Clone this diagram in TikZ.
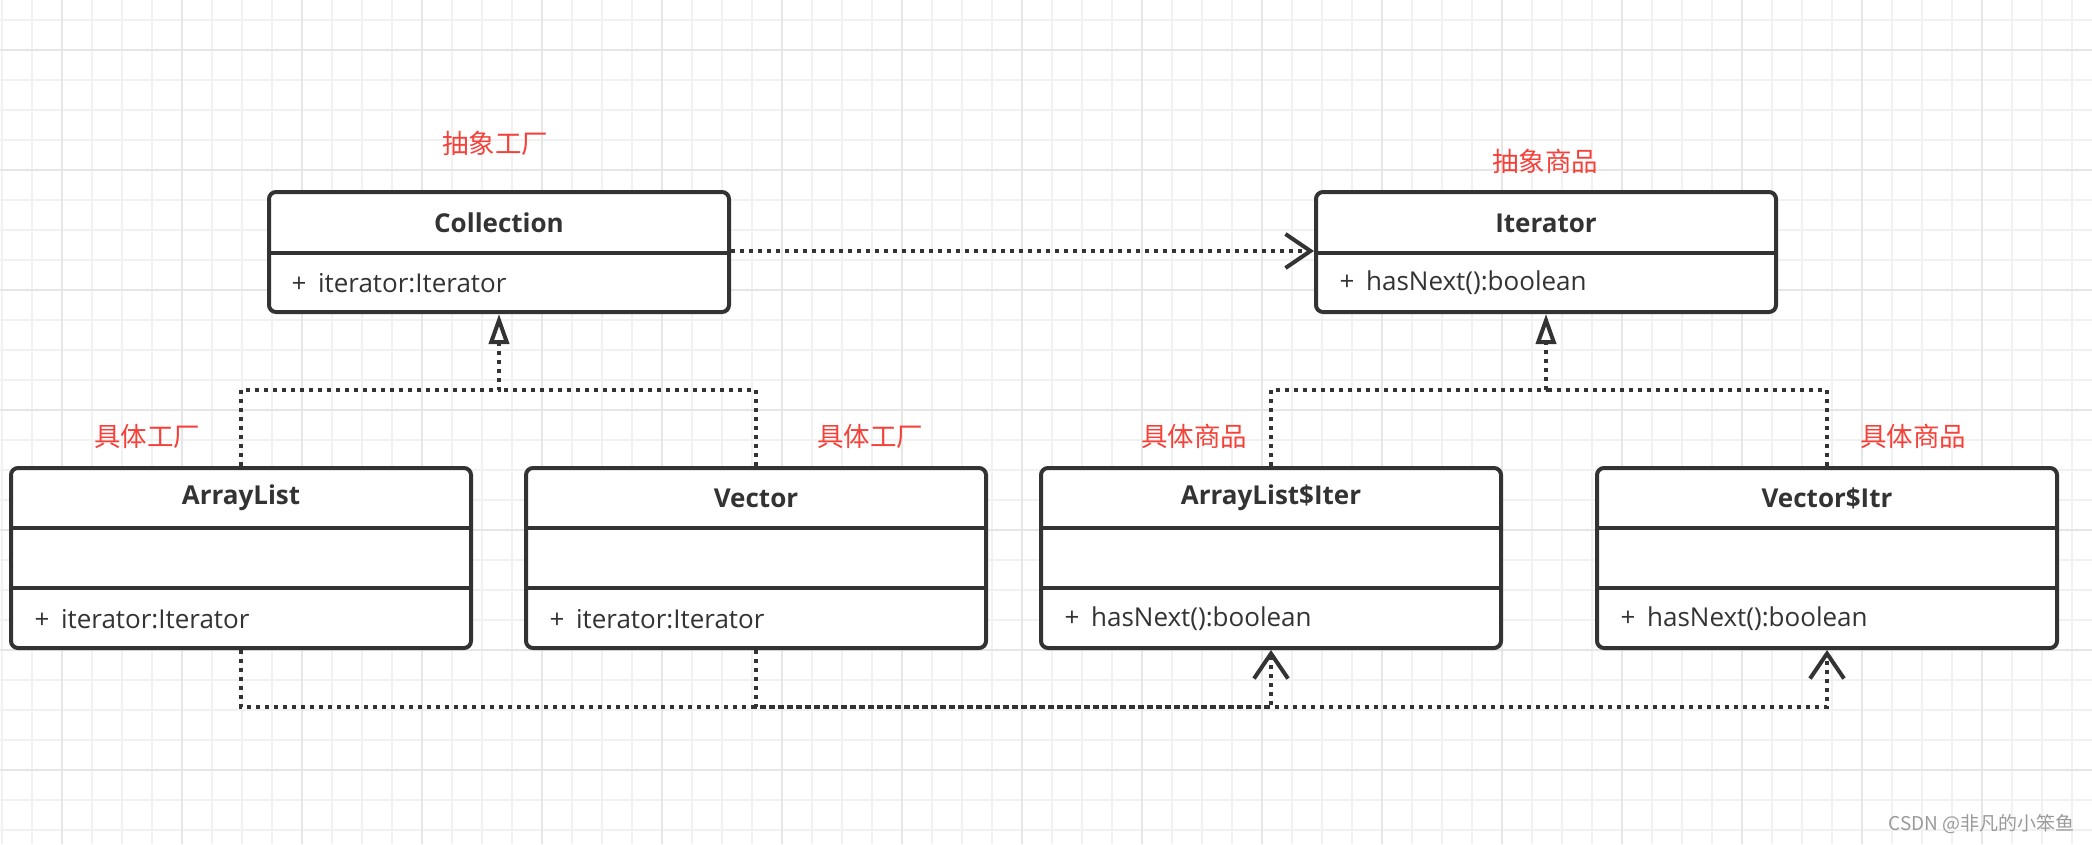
\documentclass[tikz,border=0pt]{standalone}
\usepackage{fontspec}
\setmainfont{Open Sans}
\newfontfamily\cjk{Noto Sans CJK SC}
\usetikzlibrary{arrows.meta}
\definecolor{ink}{HTML}{333333}
\definecolor{lbl}{HTML}{F5413A}
\definecolor{gmin}{HTML}{F1F1F1}
\definecolor{gmaj}{HTML}{E6E6E6}
\definecolor{wm}{HTML}{9A9A9A}
\begin{document}
\begin{tikzpicture}[x=1pt,y=-1pt,
  classbox/.style={draw=ink, line width=4pt, rounded corners=7pt, fill=white,
    minimum width=460pt, inner sep=0pt},
  divider/.style={draw=ink, line width=4pt},
  titletext/.style={text=ink, font=\fontsize{26pt}{30pt}\selectfont\bfseries, anchor=center},
  attrtext/.style={text=ink, font=\fontsize{26pt}{30pt}\selectfont, anchor=west},
  rolelabel/.style={text=lbl, font=\cjk\fontsize{26.5pt}{30pt}\selectfont},
  dotline/.style={draw=ink, line width=4pt, dash pattern=on 4pt off 5pt},
  realize/.style={dotline, -{Triangle[open, length=30pt, width=20pt, line width=4pt]}},
  depend/.style={dotline, -{Straight Barb[length=25pt, width=34pt, line width=4pt]}},
  gridmin/.style={draw=gmin, line width=2pt},
  gridmaj/.style={draw=gmaj, line width=2.6pt}
]
\useasboundingbox (0,0) rectangle (2092,844);
\fill[white] (0,0) rectangle (2092,844);
% grid
\foreach \x in {2,32,...,2092} \draw[gridmin] (\x,0) -- (\x,844);
\foreach \y in {20,50,...,844} \draw[gridmin] (0,\y) -- (2092,\y);
\foreach \x in {62,182,...,2092} \draw[gridmaj] (\x,0) -- (\x,844);
\foreach \y in {50,170,...,844} \draw[gridmaj] (0,\y) -- (2092,\y);

% abstract classes
\node[classbox, minimum height=120pt] (coll) at (499,252) {};
\node[classbox, minimum height=120pt] (iter) at (1546,252) {};
% concrete classes
\node[classbox, minimum height=180pt] (al) at (241,558) {};
\node[classbox, minimum height=180pt] (vec) at (756,558) {};
\node[classbox, minimum height=180pt] (ali) at (1271,558) {};
\node[classbox, minimum height=180pt] (vi) at (1827,558) {};

% dividers
\foreach \n in {coll,iter} \draw[divider] (\n.west |- 0,253) -- (\n.east |- 0,253);
\foreach \n in {al,vec,ali,vi} {
  \draw[divider] (\n.west |- 0,528) -- (\n.east |- 0,528);
  \draw[divider] (\n.west |- 0,588) -- (\n.east |- 0,588);
}

% texts
\node[titletext] (tcoll) at (499,223) {Collection};
\node[attrtext] (acoll) at (288,283) {+\hspace{0.45em}iterator:Iterator};
\node[titletext] (titer) at (1546,223) {Iterator};
\node[attrtext] (aiter) at (1336,283) {+\hspace{0.45em}hasNext():boolean};
\node[titletext] (tal) at (241,498) {ArrayList};
\node[attrtext] (aal) at (31,619) {+\hspace{0.45em}iterator:Iterator};
\node[titletext] (tvec) at (756,498) {Vector};
\node[attrtext] (avec) at (546,619) {+\hspace{0.45em}iterator:Iterator};
\node[titletext] (tali) at (1271,498) {ArrayList\$Iter};
\node[attrtext] (aali) at (1061,619) {+\hspace{0.45em}hasNext():boolean};
\node[titletext] (tvi) at (1827,498) {Vector\$Itr};
\node[attrtext] (avi) at (1617,619) {+\hspace{0.45em}hasNext():boolean};

% role labels
\node[rolelabel] (l1) at (495,143) {抽象工厂};
\node[rolelabel] (l2) at (1545,161) {抽象商品};
\node[rolelabel] (l3) at (147,436) {具体工厂};
\node[rolelabel] (l4) at (870,436) {具体工厂};
\node[rolelabel] (l5) at (1194,436) {具体商品};
\node[rolelabel] (l6) at (1913,436) {具体商品};

% connectors
\coordinate (j1) at (499,390);
\coordinate (j2) at (1546,390);
\draw[realize] (al.north) |- (j1) -- (coll.south);
\draw[dotline] (vec.north) |- (j1);
\draw[realize] (ali.north) |- (j2) -- (iter.south);
\draw[dotline] (vi.north) |- (j2);

\draw[depend] (coll.east |- 0,251) -- (iter.west |- 0,251);

\coordinate (b1) at (1271,707);
\coordinate (b2) at (1827,707);
\draw[depend] (al.south) |- (b1) -- (ali.south);
\draw[depend] (vec.south) |- (b2) -- (vi.south);

% watermark
\node[text=wm, font=\cjk\fontsize{19pt}{21pt}\selectfont, anchor=east] (wmk) at (2078,824) {CSDN @非凡的小笨鱼};
\end{tikzpicture}
\end{document}
